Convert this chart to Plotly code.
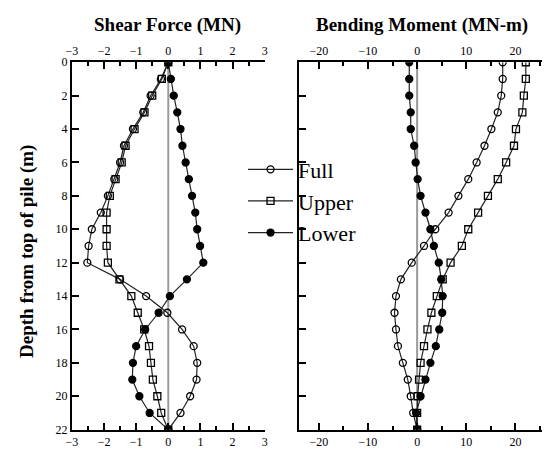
import plotly.graph_objects as go

depth = list(range(0, 23))

sf_full = [0, -0.23, -0.55, -0.78, -1.10, -1.38, -1.50, -1.68, -1.88, -2.10, -2.38, -2.48, -2.52,
           -1.50, -0.69, -0.03, 0.43, 0.79, 0.90, 0.88, 0.68, 0.38, 0]
sf_upper = [0, -0.20, -0.50, -0.74, -1.05, -1.33, -1.45, -1.64, -1.82, -1.92, -1.92, -1.92, -1.88,
            -1.52, -1.15, -0.95, -0.75, -0.60, -0.54, -0.48, -0.34, -0.22, 0]
sf_lower = [0, 0.08, 0.17, 0.28, 0.38, 0.44, 0.54, 0.64, 0.74, 0.84, 0.90, 0.99, 1.09,
            0.58, 0.05, -0.30, -0.72, -1.00, -1.10, -1.12, -0.90, -0.58, 0]

bm_full = [17.4, 17.4, 17.1, 16.4, 15.1, 13.7, 12.1, 10.4, 8.4, 6.4, 3.7, 1.4, -1.1,
           -3.3, -4.3, -4.6, -4.3, -3.9, -2.9, -1.9, -1.3, -0.8, 0]
bm_upper = [22.1, 22.1, 21.7, 21.4, 20.1, 19.7, 18.1, 16.4, 14.4, 12.4, 10.4, 9.1, 6.8,
            5.2, 4.0, 2.9, 2.1, 1.4, 0.7, 0.4, 0.1, 0.0, 0]
bm_lower = [-1.6, -1.6, -1.6, -1.3, -1.3, -0.6, -0.3, 0.1, 0.7, 1.7, 2.7, 3.4, 4.4,
            4.9, 5.2, 5.1, 4.5, 3.8, 2.7, 1.7, 0.7, -0.2, 0]

series = ["Full", "Upper", "Lower"]
symbols = ["circle-open", "square-open", "circle"]

sf_ticks = [-3, -2, -1, 0, 1, 2, 3]
bm_ticks = [-20, -10, 0, 10, 20]
depth_ticks = list(range(0, 23, 2))

FONT = "Liberation Serif"
W, H = 547, 458

def px_x(p):
    return p / W

def px_y(p):
    return 1 - p / H

fig = go.Figure()

for name, sym, sf, bm in zip(series, symbols, [sf_full, sf_upper, sf_lower], [bm_full, bm_upper, bm_lower]):
    common = dict(mode="lines+markers",
                  line=dict(color="#222222", width=1.2),
                  marker=dict(symbol=sym, size=7, color="black",
                              line=dict(color="black", width=1.3)))
    fig.add_trace(go.Scatter(x=sf, y=depth, name=name, legendgroup=name, showlegend=True,
                             xaxis="x", yaxis="y", **common))
    fig.add_trace(go.Scatter(x=bm, y=depth, name=name, legendgroup=name, showlegend=False,
                             xaxis="x2", yaxis="y2", **common))

# invisible carriers so that the top axes are drawn
fig.add_trace(go.Scatter(x=sf_full, y=depth, xaxis="x3", yaxis="y", mode="markers",
                         marker=dict(opacity=0), showlegend=False, hoverinfo="skip"))
fig.add_trace(go.Scatter(x=bm_full, y=depth, xaxis="x4", yaxis="y2", mode="markers",
                         marker=dict(opacity=0), showlegend=False, hoverinfo="skip"))

xdom1 = [px_x(67), px_x(263)]
xdom2 = [px_x(298), px_x(545)]
ydom = [px_y(436), px_y(57)]

tickfont = dict(family=FONT, size=12, color="black")
axis_common = dict(showgrid=False, zeroline=False, showline=True, linecolor="black",
                   linewidth=2, ticks="inside", ticklen=7, tickwidth=1.5, tickcolor="black",
                   tickfont=tickfont)

fig.update_layout(
    width=W, height=H,
    margin=dict(l=0, r=0, t=0, b=0),
    paper_bgcolor="white", plot_bgcolor="white",
    showlegend=True,
    xaxis=dict(domain=xdom1, range=[-3, 3], tickvals=sf_ticks, anchor="y", side="bottom",
               minor=dict(dtick=0.5, ticks="inside", ticklen=4, tickcolor="black"),
               **axis_common),
    xaxis3=dict(domain=xdom1, range=[-3, 3], tickvals=sf_ticks, anchor="y", side="top",
                overlaying="x",
                minor=dict(dtick=0.5, ticks="inside", ticklen=4, tickcolor="black"),
                **axis_common),
    yaxis=dict(domain=ydom, range=[22, 0], tickvals=depth_ticks, anchor="x",
               **axis_common),
    xaxis2=dict(domain=xdom2, range=[-24, 25.4], tickvals=bm_ticks, anchor="y2", side="bottom",
                minor=dict(dtick=5, ticks="inside", ticklen=4, tickcolor="black"),
                **axis_common),
    xaxis4=dict(domain=xdom2, range=[-24, 25.4], tickvals=bm_ticks, anchor="y2", side="top",
                overlaying="x2",
                minor=dict(dtick=5, ticks="inside", ticklen=4, tickcolor="black"),
                **axis_common),
    yaxis2=dict(domain=ydom, range=[22, 0], tickvals=depth_ticks, anchor="x2",
                showticklabels=False, **{k: v for k, v in axis_common.items() if k != "tickfont"}),
    legend=dict(x=px_x(241), y=px_y(146), xanchor="left", yanchor="top",
                font=dict(family=FONT, size=22, color="black"),
                bgcolor="rgba(0,0,0,0)", itemwidth=45, tracegroupgap=6,
                traceorder="normal"),
    shapes=[
        dict(type="line", xref="x", yref="y domain", x0=0, x1=0, y0=0, y1=1,
             line=dict(color="#9a9a9a", width=2), layer="below"),
        dict(type="line", xref="x2", yref="y2 domain", x0=0, x1=0, y0=0, y1=1,
             line=dict(color="#9a9a9a", width=2), layer="below"),
    ],
    annotations=[
        dict(text="<b>Shear Force (MN)</b>", xref="paper", yref="paper",
             x=px_x(164), y=px_y(19), xanchor="center", yanchor="middle", showarrow=False,
             font=dict(family=FONT, size=19, color="black")),
        dict(text="<b>Bending Moment (MN-m)</b>", xref="paper", yref="paper",
             x=px_x(423), y=px_y(19), xanchor="center", yanchor="middle", showarrow=False,
             font=dict(family=FONT, size=19, color="black")),
        dict(text="<b>Depth from top of pile (m)</b>", xref="paper", yref="paper",
             x=px_x(22), y=px_y(252), xanchor="center", yanchor="middle", showarrow=False,
             textangle=-90,
             font=dict(family=FONT, size=19, color="black")),
    ],
)

fig.write_html("out.html")
